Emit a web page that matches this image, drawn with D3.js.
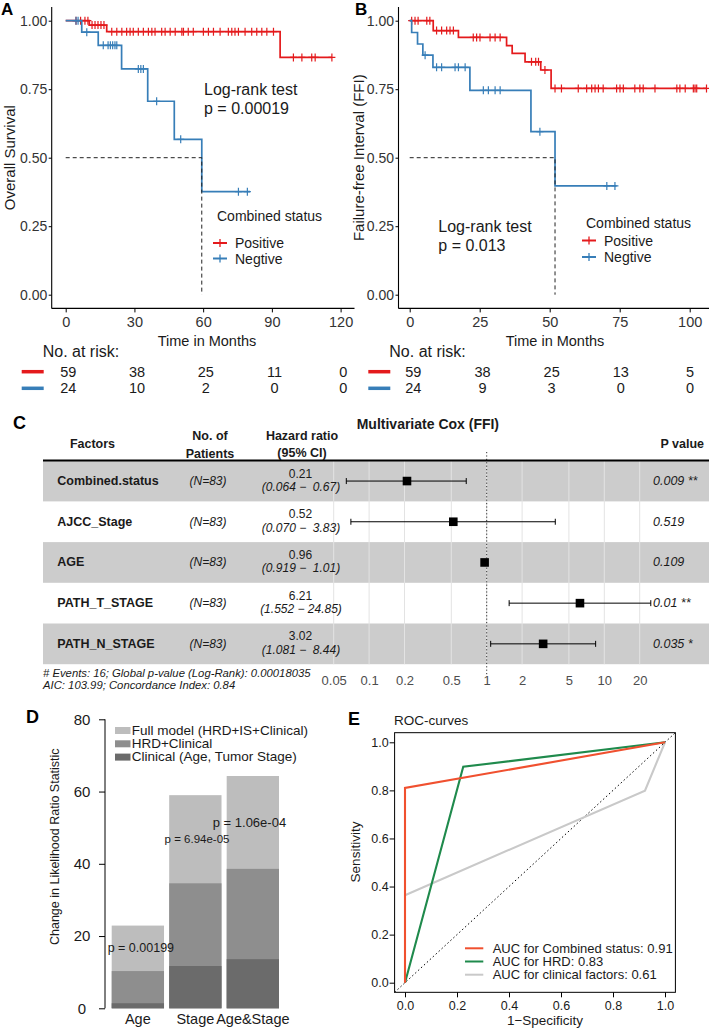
<!DOCTYPE html>
<html><head><meta charset="utf-8">
<script src="https://cdn.jsdelivr.net/npm/d3@7"></script>
<style>
body{margin:0;background:#fff}
svg{display:block;font-family:"Liberation Sans",Arial,Helvetica,sans-serif}
text{white-space:pre}
</style></head><body>
<svg id="fig" width="709" height="1030"></svg>
<script>
// ================= DATA =================
// Panel A – Overall survival (Kaplan–Meier steps: [time, survival])
const osPosSteps = [[0,1],[10.3,0.984],[17.9,0.960],[93.6,0.866]];
const osPosEnd = 116.2;
const osPosCensor = [4.5,6.5,8.4,9.7,11.5,12.8,14.1,15.4,16.7,20.1,22.3,24.5,26.6,28.1,29.5,31.7,33.9,36.1,37.6,39,41.9,43.4,45.6,47.8,50.7,51.4,53.5,55.7,60.1,62.3,64.5,67.4,71,72.5,73.9,75.4,78.3,81.2,83.4,85.6,87.8,90.7,99.4,103.1,107.4,108.9,116.2];
const osNegSteps = [[0,1],[7,0.958],[14.2,0.910],[24.4,0.824],[35.8,0.706],[47.4,0.567],[59.4,0.376]];
const osNegEnd = 80.5;
const osNegCensor = [4.5,5.4,9.2,16.4,18.5,19.5,20.5,21.5,22.3,31.7,32.8,33.9,39.7,50.2,75.4,79.3];
const osMedian = 59.4;
// Panel B – Failure-free interval
const ffiPosSteps = [[0,1],[8.4,0.964],[17.4,0.939],[34.6,0.909],[36.6,0.881],[41.2,0.850],[46.8,0.820],[50.5,0.753]];
const ffiPosEnd = 106;
const ffiPosCensor = [0.7,1.9,3,6.1,7.2,9.6,11.4,13.2,14.4,15.6,22.7,23.9,25.1,28.7,30.5,32.3,43.5,45,46,48.3,51.9,54.2,60.2,63.2,65,66.2,67.4,69.1,73.9,75.1,76.3,80.4,82.2,83.4,87.6,95.4,96.5,98.4,101.3,101.9,102.5,106];
const ffiNegSteps = [[0,1],[0.7,0.957],[2.8,0.915],[4.7,0.874],[8.3,0.830],[21.5,0.746],[43.3,0.595],[51.9,0.397]];
const ffiNegEnd = 73.9;
const ffiNegCensor = [5.5,9.6,11.4,16.2,17.4,19.8,26.3,28.1,30.5,32.3,46.5,70.4,73.3];
const ffiMedian = 51.9;
const survTicks = [0,0.25,0.5,0.75,1];
const kmTicksA = [0,30,60,90,120];
const kmTicksB = [0,25,50,75,100];
const riskTimesA = [0,30,60,90,120];
const riskPosA = [59,38,25,11,0];
const riskNegA = [24,10,2,0,0];
const riskTimesB = [0,25,50,75,100];
const riskPosB = [59,38,25,13,5];
const riskNegB = [24,9,3,0,0];
const groupNames = ["Positive","Negtive"];
// Panel C – multivariate Cox
const coxFactors = ["Combined.status","AJCC_Stage","AGE","PATH_T_STAGE","PATH_N_STAGE"];
const coxN = ["(N=83)","(N=83)","(N=83)","(N=83)","(N=83)"];
const coxHR = [0.21,0.52,0.96,6.21,3.02];
const coxLow = [0.064,0.070,0.919,1.552,1.081];
const coxHigh = [0.67,3.83,1.01,24.85,8.44];
const coxCI = ["(0.064 −  0.67)","(0.070 −  3.83)","(0.919 −  1.01)","(1.552 − 24.85)","(1.081 −  8.44)"];
const coxP = ["0.009 **","0.519","0.109","0.01 **","0.035 *"];
const coxTicks = [0.05,0.1,0.2,0.5,1,2,5,10,20];
// Panel D – likelihood ratio
const lrCats = ["Age","Stage","Age&Stage"];
const lrFull = [22.9,59.0,64.3];
const lrHRD = [10.3,34.6,38.6];
const lrClin = [1.4,11.7,13.6];
const lrP = ["p = 0.00199","p = 6.94e-05","p = 1.06e-04"];
const lrTicks = [0,20,40,60,80];
const lrLegend = ["Full model (HRD+IS+Clinical)","HRD+Clinical","Clinical (Age, Tumor Stage)"];
// Panel E – ROC
const rocCombFpr = [0,0,1],        rocCombTpr = [0,0.81,1];
const rocHrdFpr  = [0,0.224,1],    rocHrdTpr  = [0,0.898,1];
const rocClinFpr = [0,0.923,1],    rocClinTpr = [0.364,0.799,1];
const rocTicks = [0,0.2,0.4,0.6,0.8,1];
const rocLegend = ["AUC for Combined status: 0.91","AUC for HRD: 0.83","AUC for clinical factors: 0.61"];

// ================= DRAW =================
const svg = d3.select("#fig");
svg.append("rect").attr("width",709).attr("height",1030).attr("fill","#fff");
const RED="#E41A1C", BLUE="#377EB8", TXT="#1a1a1a";

function txt(g,x,y,s,o={}){
  const t=g.append("text").attr("x",x).attr("y",y).text(s)
    .attr("font-size",o.size||14).attr("fill",o.fill||TXT)
    .attr("dominant-baseline",o.base||"central")
    .attr("text-anchor",o.anchor||"start");
  if(o.weight) t.attr("font-weight",o.weight);
  if(o.style) t.attr("font-style",o.style);
  if(o.rotate) t.attr("transform",`rotate(${o.rotate},${x},${y})`);
  return t;
}
function styleAxis(g,size,fill){
  g.attr("font-family",null).attr("font-size",size);
  g.selectAll("text").attr("fill",fill||TXT);
  g.selectAll(".tick line").attr("stroke","#000");
}

// ---------- KM panels ----------
const yKM = d3.scaleLinear().domain([0,1]).range([294.7,20.7]);
function survAt(steps,t){let s=1;steps.forEach(d=>{if(d[0]<=t)s=d[1];});return s;}
function kmPanel(p){
  const g=svg.append("g"), x=p.x, y=yKM;
  const yTop=y(1.05), yBot=y(-0.05);
  const ya=g.append("g").attr("transform",`translate(${p.axisX},0)`)
    .call(d3.axisLeft(y).tickValues(survTicks).tickFormat(d3.format(".2f")).tickSize(3).tickPadding(1.5));
  ya.select(".domain").remove(); styleAxis(ya,14,"#333");
  const xa=g.append("g").attr("transform",`translate(0,${yBot})`)
    .call(d3.axisBottom(x).tickValues(p.ticks).tickSize(4).tickPadding(4.5));
  xa.select(".domain").remove(); styleAxis(xa,14.5,"#333");
  g.append("line").attr("x1",p.axisX).attr("x2",p.axisX).attr("y1",yTop).attr("y2",yBot).attr("stroke","#000").attr("stroke-width",1.1);
  g.append("line").attr("x1",p.axisX).attr("x2",p.axisRight).attr("y1",yBot).attr("y2",yBot).attr("stroke","#000").attr("stroke-width",1.1);
  const line=d3.line().x(d=>x(d[0])).y(d=>y(d[1])).curve(d3.curveStepAfter);
  p.curves.forEach(c=>{
    const pts=c.steps.concat([[c.end,c.steps[c.steps.length-1][1]]]);
    g.append("path").attr("d",line(pts)).attr("fill","none").attr("stroke",c.color).attr("stroke-width",1.7);
    c.censor.forEach(t=>{
      const cx=x(t), cy=y(survAt(c.steps,t));
      g.append("path").attr("d",`M${cx-3.5},${cy}H${cx+3.5}M${cx},${cy-4}V${cy+4}`)
        .attr("stroke",c.color).attr("stroke-width",1.2);
    });
  });
  g.append("path").attr("d",`M${x(0)},${y(0.5)}H${x(p.median)}V${y(0)}`)
    .attr("fill","none").attr("stroke","#222").attr("stroke-width",1).attr("stroke-dasharray","4,3");
  txt(g,p.letter[1],p.letter[2],p.letter[0],{size:17,weight:"bold",base:"auto",fill:"#000"});
  txt(g,p.ylabX,(yTop+yBot)/2,p.ylab,{size:15,anchor:"middle",rotate:-90});
  txt(g,p.lr[0],p.lr[1],"Log-rank test",{size:16});
  txt(g,p.lr[0],p.lr[1]+18.5,p.ptext,{size:16});
  txt(g,p.xlab[0],p.xlab[1],"Time in Months",{size:14.5,anchor:"middle"});
  txt(g,p.leg[0]+4,p.leg[1],"Combined status",{size:14});
  p.curves.forEach((c,i)=>{
    const ly=p.leg[1]+p.legDy[i], lx=p.leg[0];
    g.append("line").attr("x1",lx).attr("x2",lx+14).attr("y1",ly).attr("y2",ly).attr("stroke",c.color).attr("stroke-width",2);
    g.append("path").attr("d",`M${lx+7},${ly-4}V${ly+4}`).attr("stroke",c.color).attr("stroke-width",1.3);
    txt(g,lx+22,ly,groupNames[i],{size:14});
  });
  txt(g,p.risk.labelX,351.7,"No. at risk:",{size:16});
  [[p.risk.pos,RED,371.7],[p.risk.neg,BLUE,388.3]].forEach(([vals,col,ry])=>{
    g.append("line").attr("x1",p.risk.barX).attr("x2",p.risk.barX+22).attr("y1",ry).attr("y2",ry).attr("stroke",col).attr("stroke-width",3.5);
    vals.forEach((v,i)=>txt(g,p.risk.x(p.risk.times[i]),ry,String(v),{size:14.5,anchor:"middle"}));
  });
}
kmPanel({
  x:d3.scaleLinear().domain([0,120]).range([65.7,340.6]), axisX:51.7, axisRight:354.5, ticks:kmTicksA,
  curves:[{steps:osPosSteps,end:osPosEnd,censor:osPosCensor,color:RED},{steps:osNegSteps,end:osNegEnd,censor:osNegCensor,color:BLUE}],
  median:osMedian, letter:["A",1,15], ylab:"Overall Survival", ylabX:10, lr:[204,89.5], ptext:"p = 0.00019",
  xlab:[207,341], leg:[213,216], legDy:[27,42.5],
  risk:{labelX:42.7,barX:21.7,x:d3.scaleLinear().domain([0,120]).range([68.3,343.3]),times:riskTimesA,pos:riskPosA,neg:riskNegA}
});
kmPanel({
  x:d3.scaleLinear().domain([0,100]).range([409.7,689.7]), axisX:398.5, axisRight:709, ticks:kmTicksB,
  curves:[{steps:ffiPosSteps,end:ffiPosEnd,censor:ffiPosCensor,color:RED},{steps:ffiNegSteps,end:ffiNegEnd,censor:ffiNegCensor,color:BLUE}],
  median:ffiMedian, letter:["B",355,15], ylab:"Failure-free Interval (FFI)", ylabX:359, lr:[438.3,226.7], ptext:"p = 0.013",
  xlab:[555,341], leg:[582,223], legDy:[17.5,34],
  risk:{labelX:389.3,barX:368.3,x:d3.scaleLinear().domain([0,100]).range([413.3,690]),times:riskTimesB,pos:riskPosB,neg:riskNegB}
});

// ---------- Panel C: forest ----------
(function(){
  const g=svg.append("g");
  const xF=d3.scaleLog().domain([0.05,20]).range([333.7,639.7]);
  const yR=d3.scaleBand().domain(coxFactors).range([460.7,664.2]);
  const L=43, R=709;
  coxFactors.forEach((f,i)=>{
    if(i%2===0) g.append("rect").attr("x",L).attr("y",yR(f)).attr("width",R-L).attr("height",yR.bandwidth()).attr("fill","#cccccc");
  });
  coxTicks.forEach(t=>g.append("line").attr("x1",xF(t)).attr("x2",xF(t)).attr("y1",460.7).attr("y2",664.2).attr("stroke","#e3e3e3").attr("stroke-width",1));
  g.append("line").attr("x1",xF(1)).attr("x2",xF(1)).attr("y1",452).attr("y2",676).attr("stroke","#333").attr("stroke-width",1).attr("stroke-dasharray","1.2,2.2");
  g.append("line").attr("x1",L).attr("x2",R).attr("y1",460.5).attr("y2",460.5).attr("stroke","#000").attr("stroke-width",2);
  txt(g,13,423,"C",{size:18,weight:"bold",fill:"#000"});
  txt(g,356.7,424,"Multivariate Cox (FFI)",{size:14,weight:"bold"});
  txt(g,92.5,444,"Factors",{size:12.5,weight:"bold",anchor:"middle"});
  txt(g,210,436,"No. of",{size:12.5,weight:"bold",anchor:"middle"});
  txt(g,210,453.5,"Patients",{size:12.5,weight:"bold",anchor:"middle"});
  txt(g,302,436,"Hazard ratio",{size:12.5,weight:"bold",anchor:"middle"});
  txt(g,302,453,"(95% CI)",{size:12.5,weight:"bold",anchor:"middle"});
  txt(g,704,444,"P value",{size:12.5,weight:"bold",anchor:"end"});
  const fmt=d3.format(".2f");
  coxFactors.forEach((f,i)=>{
    const cy=yR(f)+yR.bandwidth()/2;
    txt(g,57.3,cy,f,{size:12.5,weight:"bold"});
    txt(g,208,cy,coxN[i],{size:12,style:"italic",anchor:"middle"});
    txt(g,300.5,cy-7.5,fmt(coxHR[i]),{size:12,anchor:"middle"});
    txt(g,301,cy+5.8,coxCI[i],{size:12,style:"italic",anchor:"middle"});
    txt(g,653,cy,coxP[i],{size:12.5,style:"italic"});
    const x1=xF(coxLow[i]), x2=xF(coxHigh[i]);
    g.append("path").attr("d",`M${x1},${cy}H${x2}M${x1},${cy-3}V${cy+3}M${x2},${cy-3}V${cy+3}`).attr("stroke","#000").attr("stroke-width",1).attr("fill","none");
    g.append("rect").attr("x",xF(coxHR[i])-4.3).attr("y",cy-4.3).attr("width",8.6).attr("height",8.6).attr("fill","#000");
  });
  const fa=g.append("g").attr("transform","translate(0,676)")
    .call(d3.axisBottom(xF).tickValues(coxTicks).tickFormat(d=>String(d)).tickSize(0).tickPadding(0));
  fa.select(".domain").remove(); styleAxis(fa,13,"#4d4d4d");
  txt(g,43,673,"# Events: 16; Global p-value (Log-Rank): 0.00018035",{size:11.3,style:"italic"});
  txt(g,43,684.5,"AIC: 103.99; Concordance Index: 0.84",{size:11.3,style:"italic"});
})();

// ---------- Panel D: bars ----------
(function(){
  const g=svg.append("g");
  const y=d3.scaleLinear().domain([0,80]).range([1008.3,719.3]);
  const x=d3.scaleBand().domain(lrCats).range([111.7,279]).paddingInner(0.09).paddingOuter(0);
  const cols=["#bdbdbd","#8e8e8e","#6b6b6b"];
  [lrFull,lrHRD,lrClin].forEach((vals,k)=>{
    lrCats.forEach((c,i)=>g.append("rect").attr("x",x(c)).attr("width",x.bandwidth()).attr("y",y(vals[i])).attr("height",y(0)-y(vals[i])).attr("fill",cols[k]));
  });
  const ya=g.append("g").attr("transform","translate(105,0)").call(d3.axisLeft(y).tickValues(lrTicks).tickSize(6));
  ya.select(".domain").attr("d",`M0,${y(0)}V${y(80)}`).attr("stroke","#000");
  styleAxis(ya,15,TXT);
  ya.selectAll("text").attr("x",-23).attr("text-anchor","middle");
  lrCats.forEach((c,i)=>txt(g,x(c)+x.bandwidth()/2,1018.5,c,{size:14.5,anchor:"middle"}));
  const pOff=[3,1.7,-3.4], pSize=[12.5,11.5,13];
  lrCats.forEach((c,i)=>txt(g,x(c)+x.bandwidth()/2+pOff[i],y((lrFull[i]+lrHRD[i])/2),lrP[i],{size:pSize[i],anchor:"middle"}));
  lrLegend.forEach((s,i)=>{
    const ly=730+i*13.3;
    g.append("rect").attr("x",115).attr("y",ly-3).attr("width",15.5).attr("height",7).attr("fill",cols[i]);
    txt(g,131.7,ly,s,{size:13.5});
  });
  txt(g,55,846.7,"Change in Likelihood Ratio Statistic",{size:12.5,anchor:"middle",rotate:-90});
  txt(g,26,723,"D",{size:18,weight:"bold",base:"auto",fill:"#000"});
})();

// ---------- Panel E: ROC ----------
(function(){
  const g=svg.append("g");
  const x=d3.scaleLinear().domain([0,1]).range([405,665]);
  const y=d3.scaleLinear().domain([0,1]).range([982.7,742.3]);
  const x0=x(-0.04),x1=x(1.04),y0=y(-0.04),y1=y(1.04);
  g.append("line").attr("x1",x0).attr("y1",y0).attr("x2",x1).attr("y2",y1).attr("stroke","#000").attr("stroke-width",1).attr("stroke-dasharray","1.5,2.5");
  const line=d3.line().x(d=>x(d[0])).y(d=>y(d[1]));
  const curves=[[rocClinFpr,rocClinTpr,"#c9c9c9"],[rocHrdFpr,rocHrdTpr,"#1f8a4c"],[rocCombFpr,rocCombTpr,"#f0502f"]];
  curves.forEach(([f,t,c])=>g.append("path").attr("d",line(f.map((v,i)=>[v,t[i]]))).attr("fill","none").attr("stroke",c).attr("stroke-width",2.1));
  g.append("rect").attr("x",x0).attr("y",y1).attr("width",x1-x0).attr("height",y0-y1).attr("fill","none").attr("stroke","#000").attr("stroke-width",1);
  const xa=g.append("g").attr("transform",`translate(0,${y0})`).call(d3.axisBottom(x).tickValues(rocTicks).tickFormat(d3.format(".1f")).tickSize(5).tickPadding(4.3));
  xa.select(".domain").remove(); styleAxis(xa,12.5,TXT);
  const ya=g.append("g").attr("transform",`translate(${x0},0)`).call(d3.axisLeft(y).tickValues(rocTicks).tickFormat(d3.format(".1f")).tickSize(5).tickPadding(1));
  ya.select(".domain").remove(); styleAxis(ya,12.5,TXT);
  txt(g,545,1020.5,"1−Specificity",{size:13.5,anchor:"middle"});
  txt(g,355,852,"Sensitivity",{size:13.5,anchor:"middle",rotate:-90});
  txt(g,394,720,"ROC-curves",{size:13.5});
  txt(g,348,725,"E",{size:18,weight:"bold",base:"auto",fill:"#000"});
  const lc=["#f0502f","#1f8a4c","#c9c9c9"];
  rocLegend.forEach((s,i)=>{
    const ly=948.3+i*13.2;
    g.append("line").attr("x1",465).attr("x2",483.3).attr("y1",ly).attr("y2",ly).attr("stroke",lc[i]).attr("stroke-width",2);
    txt(g,492.7,ly,s,{size:13});
  });
})();
</script>
</body></html>
